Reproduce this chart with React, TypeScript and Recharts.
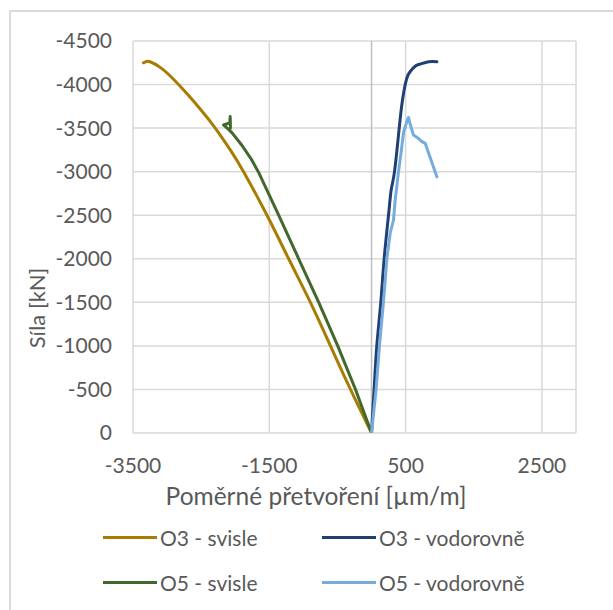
import { LineChart, Line, XAxis, YAxis, CartesianGrid, ReferenceLine } from 'recharts'

// poměrné přetvoření [µm/m] a síla [kN] pro každou řadu
const o3SvisleStrain = [0, -309, -603, -897, -1216, -1534, -1878, -2073, -2293, -2493, -2713, -2917, -3106, -3250, -3300, -3348]
const o3SvisleForce = [0, -500, -1000, -1500, -2000, -2500, -3000, -3250, -3500, -3700, -3900, -4070, -4200, -4262, -4265, -4250]

const o3VodoStrain = [0, 38, 77, 136, 185, 249, 290, 337, 406, 450, 494, 530, 568, 640, 715, 837, 960]
const o3VodoForce = [0, -500, -1000, -1500, -2000, -2500, -2800, -3000, -3500, -3800, -4000, -4100, -4150, -4210, -4236, -4263, -4263]

const o5SvisleStrain = [0, -235, -496, -775, -1069, -1363, -1662, -1770, -1900, -2040, -2090, -2172, -2080, -2074, -2070]
const o5SvisleForce = [0, -500, -1000, -1500, -2000, -2500, -3000, -3150, -3300, -3440, -3480, -3536, -3560, -3632, -3500]

const o5VodoStrain = [0, 67, 116, 175, 225, 274, 322, 347, 396, 426, 470, 520, 542, 565, 616, 689, 740, 787, 960]
const o5VodoForce = [0, -500, -1000, -1500, -2000, -2296, -2445, -2675, -3000, -3176, -3450, -3580, -3624, -3550, -3420, -3380, -3345, -3325, -2940]

const xTicks = [-3500, -1500, 500, 2500]
const yTicks = [0, -500, -1000, -1500, -2000, -2500, -3000, -3500, -4000, -4500]

const zip = (xs: number[], ys: number[]) => xs.map((x, i) => ({ x, y: ys[i] }))

const series = [
  { name: 'O3 - svisle', color: '#A87C00', curve: 'natural', data: zip(o3SvisleStrain, o3SvisleForce) },
  { name: 'O3 - vodorovně', color: '#203F72', curve: 'natural', data: zip(o3VodoStrain, o3VodoForce) },
  { name: 'O5 - svisle', color: '#42692B', curve: 'linear', data: zip(o5SvisleStrain, o5SvisleForce) },
  { name: 'O5 - vodorovně', color: '#76ACDD', curve: 'linear', data: zip(o5VodoStrain, o5VodoForce) },
]

const font = 'Lato, "Liberation Sans", sans-serif'
const textColor = '#595959'
const tick = { fontSize: 21, fill: textColor, fontFamily: font }

export default function App() {
  return (
    <div style={{ position: 'absolute', left: 0, top: 0, width: 613, height: 610, overflow: 'hidden', background: '#fff' }}>
      <div style={{ position: 'absolute', left: 9, top: 10, width: 700, height: 700, border: '2px solid #dadada' }} />
      <div style={{ position: 'absolute', left: 0, top: 0 }}>
        <LineChart width={613} height={610} margin={{ top: 41, right: 37, bottom: 117, left: 0 }}>
          <CartesianGrid stroke="#d9d9d9" strokeWidth={1.5} />
          <XAxis
            type="number"
            dataKey="x"
            domain={[-3500, 3000]}
            ticks={xTicks}
            allowDataOverflow
            axisLine={false}
            tickLine={false}
            tickSize={0}
            tickMargin={25}
            height={60}
            tick={tick}
            label={{
              content: () => (
                <text x={316} y={505} textAnchor="middle" fill={textColor} fontSize={24.5} fontFamily={font}>
                  Poměrné přetvoření [µm/m]
                </text>
              ),
            }}
          />
          <YAxis
            type="number"
            dataKey="y"
            domain={[-4500, 0]}
            ticks={yTicks}
            reversed
            allowDataOverflow
            axisLine={false}
            tickLine={false}
            tickSize={0}
            tickMargin={21}
            width={133}
            tick={tick}
            label={{
              content: () => (
                <text
                  x={36}
                  y={308}
                  textAnchor="middle"
                  dominantBaseline="central"
                  transform="rotate(-90 36 308)"
                  fill={textColor}
                  fontSize={22}
                  fontFamily={font}
                >
                  Síla [kN]
                </text>
              ),
            }}
          />
          <ReferenceLine x={0} stroke="#bfbfbf" strokeWidth={1.5} />
          {series.map((s) => (
            <Line
              key={s.name}
              data={s.data}
              dataKey="y"
              name={s.name}
              type={s.curve as 'natural' | 'linear'}
              stroke={s.color}
              strokeWidth={3}
              strokeLinejoin="round"
              strokeLinecap="round"
              dot={false}
              activeDot={false}
              isAnimationActive={false}
            />
          ))}
        </LineChart>
      </div>
      {series.map((s, i) => (
        <div
          key={s.name}
          style={{
            position: 'absolute',
            left: i % 2 === 0 ? 103 : 322,
            top: i < 2 ? 537 - 14 : 582 - 14,
            height: 28,
            display: 'flex',
            alignItems: 'center',
            fontFamily: font,
            fontSize: 21,
            color: textColor,
            whiteSpace: 'nowrap',
          }}
        >
          <span style={{ display: 'inline-block', width: 54, height: 3, background: s.color, marginRight: 3 }} />
          <span>{s.name}</span>
        </div>
      ))}
    </div>
  )
}
